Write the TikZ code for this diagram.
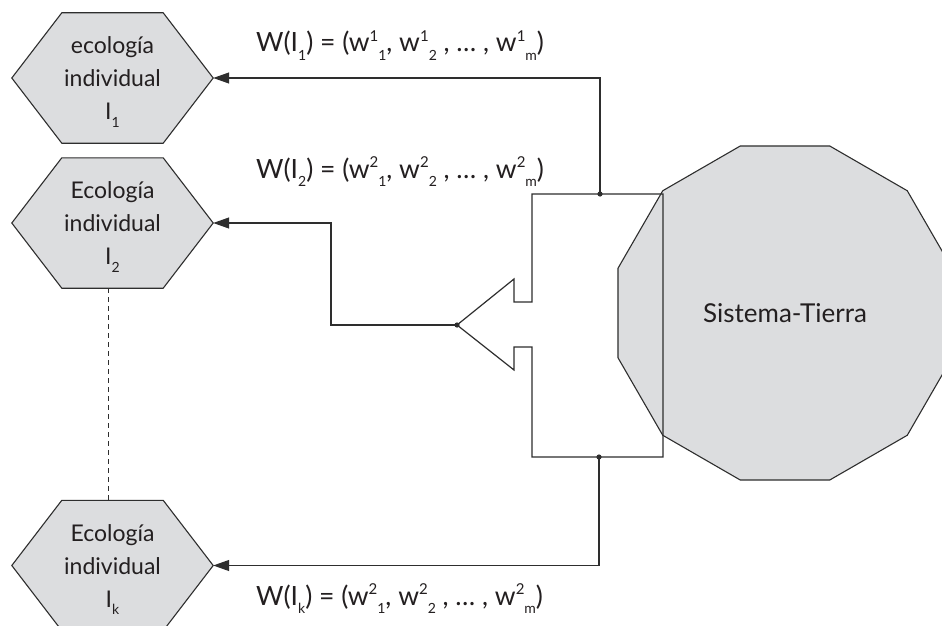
\documentclass[tikz,border=0pt]{standalone}
\usepackage{fontspec}
\setmainfont{Lato}
\usetikzlibrary{arrows.meta,shapes.geometric}
\definecolor{hexgray}{HTML}{DCDDDF}
\definecolor{ink}{HTML}{2E2E2E}
\definecolor{txt}{HTML}{231F20}
\newcommand\wup[1]{\raisebox{0.38em}{\fontsize{15}{15}\selectfont #1}}
\newcommand\wdn[1]{\raisebox{-0.32em}{\fontsize{14}{14}\selectfont #1}}
\begin{document}
\begin{tikzpicture}[x=1pt,y=-1pt,
  hexbox/.style={rectangle,minimum width=201pt,minimum height=130pt,inner sep=0pt},
  hexline/.style={draw=ink,fill=hexgray,line width=1.1pt,line join=miter},
  hextext/.style={align=center,text=txt,font=\fontsize{23}{33}\selectfont,inner sep=0pt},
  wlabel/.style={anchor=base west,inner sep=0pt,text=txt,font=\fontsize{26.5}{28}\selectfont},
  conn/.style={draw=ink,line width=1.2pt},
  arr/.style={conn,-{Triangle[length=16pt,width=11pt]}},
  dot/.style={fill=ink},
  earth/.style={regular polygon,regular polygon sides=12,minimum size=345.8pt,inner sep=0pt,draw=ink,fill=hexgray,line width=1.1pt,text=txt,font=\fontsize{26}{28}\selectfont},
  splitter/.style={draw=ink,line width=1.2pt,line join=miter}]
\useasboundingbox (0,0) rectangle (942,626);
\fill[white] (0,0) rectangle (942,626);
\clip (0,0) rectangle (942,626);

% hexagon frames
\node[hexbox] (h1) at (112.5,78) {};
\node[hexbox] (h2) at (112.5,223) {};
\node[hexbox] (hk) at (112.5,565.5) {};
\foreach \h in {h1,h2,hk}
  \draw[hexline] (\h.west) -- ([xshift=50pt]\h.north west) -- ([xshift=-50pt]\h.north east)
    -- (\h.east) -- ([xshift=-50pt]\h.south east) -- ([xshift=50pt]\h.south west) -- cycle;
\node[hextext] (t1) at ([yshift=-4pt]h1.center) {ecología\\individual\\I\wdn{1}};
\node[hextext] (t2) at ([yshift=-4pt]h2.center) {Ecología\\individual\\I\wdn{2}};
\node[hextext] (tk) at ([yshift=-4pt]hk.center) {Ecología\\individual\\I\wdn{k}};

\draw[conn,line width=1pt,dash pattern=on 5pt off 4pt] ([xshift=-4.5pt]h2.south) -- ([xshift=-4.5pt]hk.north);

% Sistema-Tierra
\node[earth] (earth) at (785,313) {Sistema-Tierra};

% splitter outline
\draw[splitter] (532,194) -- (663,194) -- (663,457) -- (532,457) -- (532,347) -- (514,347)
  -- (514,370) -- (457,325) -- (514,279) -- (514,302) -- (532,302) -- cycle;
\coordinate (outTop) at (600,194);
\coordinate (outMid) at (457,325);
\coordinate (outBot) at (599,457);
\coordinate (midturn) at (331,325);

% connectors
\draw[arr] (outTop) |- (h1.east);
\draw[arr] (outMid) -| (midturn |- h2.east) -- (h2.east);
\draw[arr] (outBot) |- (hk.east);
\fill[dot] (outTop) circle (2.6pt);
\fill[dot] (outMid) circle (2.6pt);
\fill[dot] (outBot) circle (2.6pt);

% labels
\node[wlabel] (w1) at (256,52) {W(I\wdn{1}) = (w\wup{1}\wdn{1}, w\wup{1}\wdn{2} , … , w\wup{1}\wdn{m})};
\node[wlabel] (w2) at (256,178) {W(I\wdn{2}) = (w\wup{2}\wdn{1}, w\wup{2}\wdn{2} , … , w\wup{2}\wdn{m})};
\node[wlabel] (wk) at (256,605) {W(I\wdn{k}) = (w\wup{2}\wdn{1}, w\wup{2}\wdn{2} , … , w\wup{2}\wdn{m})};
\end{tikzpicture}
\end{document}
